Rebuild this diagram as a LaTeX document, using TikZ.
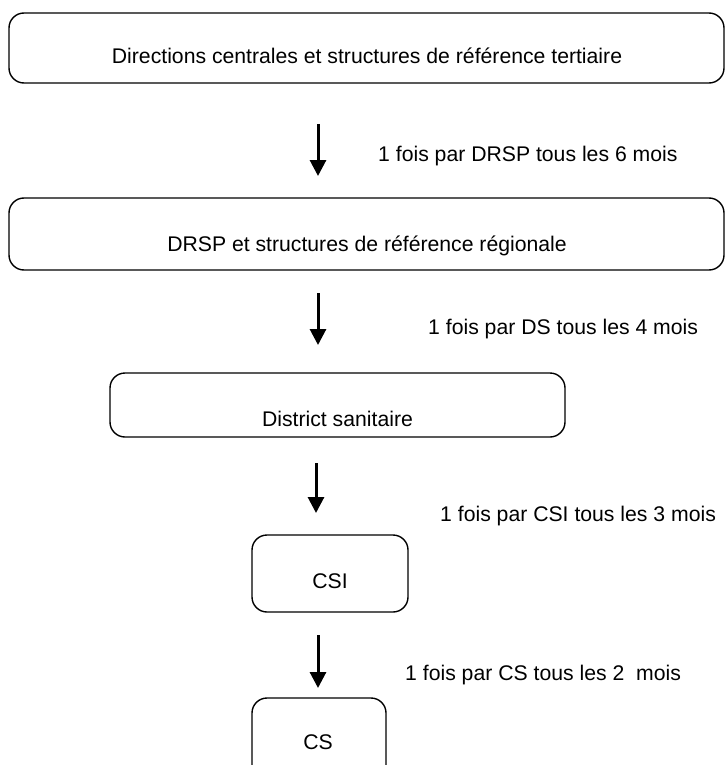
\documentclass[tikz,border=0pt]{standalone}
\usepackage{fontspec}
\setmainfont{Liberation Sans}
\usetikzlibrary{arrows.meta}
\begin{document}
\begin{tikzpicture}[x=1pt,y=-1pt,
  box/.style={draw, line width=1.4pt, rounded corners=15pt, inner sep=0pt},
  boxtext/.style={anchor=base, inner sep=0pt, font=\fontsize{21.2}{25}\selectfont},
  freq/.style={anchor=base west, inner sep=0pt, font=\fontsize{21.2}{25}\selectfont},
  flow/.style={line width=3pt, -{Triangle[width=16pt,length=16pt]}}]
\useasboundingbox (0,0) rectangle (726,765);
\fill[white] (0,0) rectangle (726,765);

% levels of the supervision chain
\node[box, minimum width=715pt, minimum height=70pt] (central) at (366.5,48) {};
\node[boxtext] (centralT) at (367,64) {Directions centrales et structures de référence tertiaire};

\node[box, minimum width=715pt, minimum height=72pt] (region) at (366.5,234) {};
\node[boxtext] (regionT) at (367,251) {DRSP et structures de référence régionale};

\node[box, minimum width=455pt, minimum height=64pt] (district) at (337.5,405) {};
\node[boxtext] (districtT) at (337.5,426) {District sanitaire};

\node[box, minimum width=156pt, minimum height=77pt] (csi) at (330,573.5) {};
\node[boxtext] (csiT) at (330,588) {CSI};

\node[box, minimum width=134pt, minimum height=92pt] (cs) at (319,744) {};
\node[boxtext] (csT) at (318,749) {CS};

% arrow end points
\coordinate (a1s) at (318,124); \coordinate (a1e) at (318,176);
\coordinate (a2s) at (318,293); \coordinate (a2e) at (318,345);
\coordinate (a3s) at (316,463); \coordinate (a3e) at (316,513);
\coordinate (a4s) at (318,635); \coordinate (a4e) at (318,688);

\draw[flow] (a1s) -- (a1e);
\draw[flow] (a2s) -- (a2e);
\draw[flow] (a3s) -- (a3e);
\draw[flow] (a4s) -- (a4e);

% visit frequencies
\node[freq] (f1) at (378,161) {1 fois par DRSP tous les 6 mois};
\node[freq] (f2) at (428,334) {1 fois par DS tous les 4 mois};
\node[freq] (f3) at (440,521) {1 fois par CSI tous les 3 mois};
\node[freq] (f4) at (405,680) {1 fois par CS tous les 2\ \ mois};
\end{tikzpicture}
\end{document}
